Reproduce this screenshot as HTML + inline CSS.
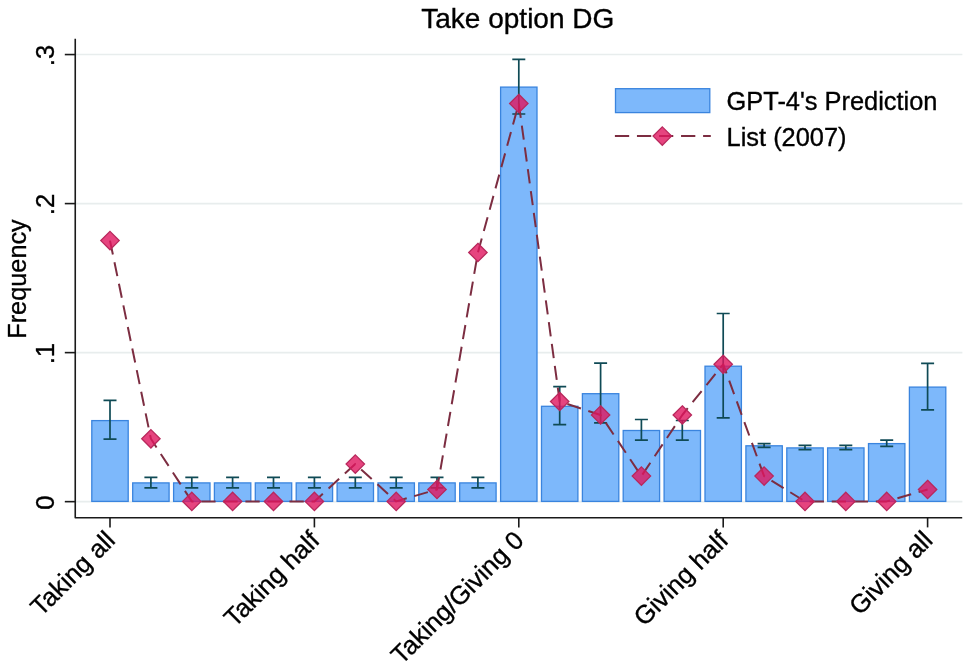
<!DOCTYPE html>
<html lang="en"><head><meta charset="utf-8"><title>Take option DG</title>
<style>html,body{margin:0;padding:0;background:#fff;}svg{display:block;}text{font-family:"Liberation Sans",Arial,Helvetica,sans-serif;fill:#000;stroke:#000;stroke-width:0.35px;}</style></head><body>
<svg width="968" height="666" viewBox="0 0 968 666">
<rect x="0" y="0" width="968" height="666" fill="#ffffff"/>
<g stroke="#e8eded" stroke-width="1.6" fill="none">
<line x1="76" y1="501.65" x2="962.4" y2="501.65"/>
<line x1="76" y1="352.62" x2="962.4" y2="352.62"/>
<line x1="76" y1="203.59" x2="962.4" y2="203.59"/>
<line x1="76" y1="54.56" x2="962.4" y2="54.56"/>
</g>
<g fill="#7db8fb" stroke="#3a84de" stroke-width="1.3">
<rect x="91.8" y="420.6" width="36.4" height="80.8"/>
<rect x="132.7" y="482.9" width="36.4" height="18.5"/>
<rect x="173.6" y="482.9" width="36.4" height="18.5"/>
<rect x="214.4" y="482.9" width="36.4" height="18.5"/>
<rect x="255.3" y="482.9" width="36.4" height="18.5"/>
<rect x="296.2" y="482.9" width="36.4" height="18.5"/>
<rect x="337.1" y="482.9" width="36.4" height="18.5"/>
<rect x="378.0" y="482.9" width="36.4" height="18.5"/>
<rect x="418.8" y="482.9" width="36.4" height="18.5"/>
<rect x="459.7" y="482.9" width="36.4" height="18.5"/>
<rect x="500.6" y="87.1" width="36.4" height="414.3"/>
<rect x="541.5" y="406.3" width="36.4" height="95.1"/>
<rect x="582.4" y="393.7" width="36.4" height="107.7"/>
<rect x="623.2" y="430.5" width="36.4" height="70.9"/>
<rect x="664.1" y="430.5" width="36.4" height="70.9"/>
<rect x="705.0" y="366.2" width="36.4" height="135.2"/>
<rect x="745.9" y="445.8" width="36.4" height="55.6"/>
<rect x="786.8" y="447.9" width="36.4" height="53.5"/>
<rect x="827.6" y="447.9" width="36.4" height="53.5"/>
<rect x="868.5" y="443.6" width="36.4" height="57.8"/>
<rect x="909.4" y="387.1" width="36.4" height="114.3"/>
</g>
<g stroke="#0f4a55" stroke-width="1.7" fill="none">
<path d="M103.5 400.4H116.5M110.0 400.4V439.1M103.5 439.1H116.5"/>
<path d="M144.4 477.4H157.4M150.9 477.4V487.9M144.4 487.9H157.4"/>
<path d="M185.3 477.4H198.3M191.8 477.4V487.9M185.3 487.9H198.3"/>
<path d="M226.1 477.4H239.1M232.6 477.4V487.9M226.1 487.9H239.1"/>
<path d="M267.0 477.4H280.0M273.5 477.4V487.9M267.0 487.9H280.0"/>
<path d="M307.9 477.4H320.9M314.4 477.4V487.9M307.9 487.9H320.9"/>
<path d="M348.8 477.4H361.8M355.3 477.4V487.9M348.8 487.9H361.8"/>
<path d="M389.7 477.4H402.7M396.2 477.4V487.9M389.7 487.9H402.7"/>
<path d="M430.5 477.4H443.5M437.0 477.4V487.9M430.5 487.9H443.5"/>
<path d="M471.4 477.4H484.4M477.9 477.4V487.9M471.4 487.9H484.4"/>
<path d="M512.3 59.3H525.3M518.8 59.3V114.0M512.3 114.0H525.3"/>
<path d="M553.2 386.7H566.2M559.7 386.7V424.7M553.2 424.7H566.2"/>
<path d="M594.1 363.2H607.1M600.6 363.2V422.9M594.1 422.9H607.1"/>
<path d="M634.9 419.5H647.9M641.4 419.5V440.2M634.9 440.2H647.9"/>
<path d="M675.8 420.5H688.8M682.3 420.5V440.2M675.8 440.2H688.8"/>
<path d="M716.7 313.5H729.7M723.2 313.5V417.8M716.7 417.8H729.7"/>
<path d="M757.6 443.6H770.6M764.1 443.6V447.3M757.6 447.3H770.6"/>
<path d="M798.5 445.3H811.5M805.0 445.3V449.6M798.5 449.6H811.5"/>
<path d="M839.3 445.3H852.3M845.8 445.3V449.6M839.3 449.6H852.3"/>
<path d="M880.2 440.2H893.2M886.7 440.2V446.4M880.2 446.4H893.2"/>
<path d="M921.1 363.4H934.1M927.6 363.4V409.9M921.1 409.9H934.1"/>
</g>
<polyline points="110.0,240.6 150.9,438.8 191.8,501.4 232.6,501.4 273.5,501.4 314.4,501.4 355.3,464.1 396.2,501.4 437.0,489.5 477.9,252.5 518.8,103.5 559.7,401.5 600.6,415.0 641.4,476.1 682.3,415.0 723.2,364.3 764.1,476.1 805.0,501.4 845.8,501.4 886.7,501.4 927.6,489.5" fill="none" stroke="#7c2d41" stroke-width="2" stroke-dasharray="14.27 7.78" stroke-linejoin="round"/>
<g fill="#e0155f" fill-opacity="0.8" stroke="#b8285c" stroke-width="1.3">
<path d="M110.0 231.4L119.2 240.6L110.0 249.8L100.8 240.6Z"/>
<path d="M150.9 429.6L160.1 438.8L150.9 448.0L141.7 438.8Z"/>
<path d="M191.8 492.2L201.0 501.4L191.8 510.6L182.6 501.4Z"/>
<path d="M232.6 492.2L241.8 501.4L232.6 510.6L223.4 501.4Z"/>
<path d="M273.5 492.2L282.7 501.4L273.5 510.6L264.3 501.4Z"/>
<path d="M314.4 492.2L323.6 501.4L314.4 510.6L305.2 501.4Z"/>
<path d="M355.3 454.9L364.5 464.1L355.3 473.3L346.1 464.1Z"/>
<path d="M396.2 492.2L405.4 501.4L396.2 510.6L387.0 501.4Z"/>
<path d="M437.0 480.3L446.2 489.5L437.0 498.7L427.8 489.5Z"/>
<path d="M477.9 243.3L487.1 252.5L477.9 261.7L468.7 252.5Z"/>
<path d="M518.8 94.3L528.0 103.5L518.8 112.7L509.6 103.5Z"/>
<path d="M559.7 392.3L568.9 401.5L559.7 410.7L550.5 401.5Z"/>
<path d="M600.6 405.8L609.8 415.0L600.6 424.2L591.4 415.0Z"/>
<path d="M641.4 466.9L650.6 476.1L641.4 485.3L632.2 476.1Z"/>
<path d="M682.3 405.8L691.5 415.0L682.3 424.2L673.1 415.0Z"/>
<path d="M723.2 355.1L732.4 364.3L723.2 373.5L714.0 364.3Z"/>
<path d="M764.1 466.9L773.3 476.1L764.1 485.3L754.9 476.1Z"/>
<path d="M805.0 492.2L814.2 501.4L805.0 510.6L795.8 501.4Z"/>
<path d="M845.8 492.2L855.0 501.4L845.8 510.6L836.6 501.4Z"/>
<path d="M886.7 492.2L895.9 501.4L886.7 510.6L877.5 501.4Z"/>
<path d="M927.6 480.3L936.8 489.5L927.6 498.7L918.4 489.5Z"/>
</g>
<g stroke="#1a1a1a" stroke-width="1.6" fill="none" stroke-linejoin="round">
<path d="M75.25 38.8V517.75H962.2"/>
<line x1="64.8" y1="501.65" x2="75.3" y2="501.65"/>
<line x1="64.8" y1="352.62" x2="75.3" y2="352.62"/>
<line x1="64.8" y1="203.59" x2="75.3" y2="203.59"/>
<line x1="64.8" y1="54.56" x2="75.3" y2="54.56"/>
<line x1="110.0" y1="517.75" x2="110.0" y2="527.4"/>
<line x1="314.4" y1="517.75" x2="314.4" y2="527.4"/>
<line x1="518.8" y1="517.75" x2="518.8" y2="527.4"/>
<line x1="723.2" y1="517.75" x2="723.2" y2="527.4"/>
<line x1="927.6" y1="517.75" x2="927.6" y2="527.4"/>
</g>
<text transform="translate(54.1 502.6) rotate(-90)" text-anchor="middle" font-size="25.6">0</text>
<text transform="translate(54.1 353.6) rotate(-90)" text-anchor="middle" font-size="25.6">.1</text>
<text transform="translate(54.1 204.5) rotate(-90)" text-anchor="middle" font-size="25.6">.2</text>
<text transform="translate(54.1 55.5) rotate(-90)" text-anchor="middle" font-size="25.6">.3</text>
<text transform="translate(25.6 279) rotate(-90)" text-anchor="middle" font-size="25.3">Frequency</text>
<text transform="translate(110.3 535.6) rotate(-45)" text-anchor="end" font-size="25.6" dy="8.8">Taking all</text>
<text transform="translate(314.7 535.6) rotate(-45)" text-anchor="end" font-size="25.6" dy="8.8">Taking half</text>
<text transform="translate(519.1 535.6) rotate(-45)" text-anchor="end" font-size="25.6" dy="8.8">Taking/Giving 0</text>
<text transform="translate(723.5 535.6) rotate(-45)" text-anchor="end" font-size="25.6" dy="8.8">Giving half</text>
<text transform="translate(927.9 535.6) rotate(-45)" text-anchor="end" font-size="25.6" dy="8.8">Giving all</text>
<text x="517.8" y="27.9" text-anchor="middle" font-size="28">Take option DG</text>
<rect x="615.5" y="88.7" width="94.3" height="23.9" fill="#7db8fb" stroke="#3a84de" stroke-width="1.3"/>
<line x1="614.9" y1="136.1" x2="710.8" y2="136.1" stroke="#7c2d41" stroke-width="2" stroke-dasharray="14.27 7.78"/>
<path d="M662.3 126.9L671.5 136.1L662.3 145.3L653.1 136.1Z" fill="#e0155f" fill-opacity="0.8" stroke="#b8285c" stroke-width="1.3"/>
<text x="726.6" y="110.2" font-size="25.4">GPT-4's Prediction</text>
<text x="726.6" y="146.3" font-size="25.4">List (2007)</text>
</svg></body></html>
